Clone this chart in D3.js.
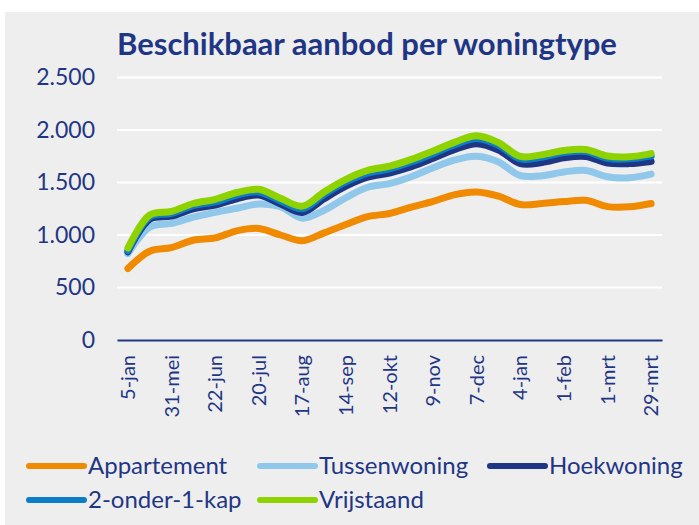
<!DOCTYPE html>
<html lang="nl">

<head>
    <meta charset="UTF-8">
    <title>Beschikbaar aanbod per woningtype</title>
    <script src="https://cdn.jsdelivr.net/npm/d3@7"></script>
    <style>
        html, body { margin: 0; padding: 0; background: #fff; }
        svg { display: block; }
    </style>
</head>

<body>
    <div id="container"></div>
</body>
<script>

    // data
    const weeks = ["5-jan", "17-mei", "31-mei", "8-jun", "22-jun", "6-jul", "20-jul", "3-aug", "17-aug",
        "31-aug", "14-sep", "28-sep", "12-okt", "26-okt", "9-nov", "23-nov", "7-dec", "21-dec",
        "4-jan", "18-jan", "1-feb", "15-feb", "1-mrt", "15-mrt", "29-mrt"];
    const appartement = [680, 845, 880, 950, 972, 1040, 1062, 1000, 945, 1020, 1100, 1175, 1205, 1265, 1320, 1385, 1410, 1370, 1290, 1300, 1318, 1330, 1270, 1268, 1300];
    const tussenwoning = [822, 1075, 1110, 1170, 1215, 1255, 1295, 1270, 1160, 1235, 1355, 1455, 1490, 1555, 1640, 1715, 1750, 1695, 1565, 1565, 1600, 1615, 1555, 1545, 1580];
    const hoekwoning = [840, 1150, 1180, 1250, 1285, 1345, 1380, 1295, 1215, 1345, 1465, 1550, 1590, 1650, 1730, 1815, 1870, 1810, 1680, 1690, 1735, 1748, 1685, 1680, 1700];
    const tweeOnder1Kap = [850, 1170, 1205, 1280, 1315, 1380, 1410, 1325, 1250, 1385, 1505, 1590, 1630, 1695, 1775, 1860, 1920, 1855, 1725, 1740, 1785, 1795, 1730, 1725, 1752];
    const vrijstaand = [875, 1190, 1225, 1300, 1340, 1405, 1435, 1350, 1275, 1410, 1530, 1615, 1655, 1720, 1800, 1885, 1945, 1880, 1748, 1765, 1805, 1815, 1752, 1745, 1775];
    const yTicks = [0, 500, 1000, 1500, 2000, 2500];

    const series = [
        { name: "Appartement", values: appartement, color: "#f08a00" },
        { name: "Tussenwoning", values: tussenwoning, color: "#8fc8ea" },
        { name: "Hoekwoning", values: hoekwoning, color: "#1f3685" },
        { name: "2-onder-1-kap", values: tweeOnder1Kap, color: "#0b7ec6" },
        { name: "Vrijstaand", values: vrijstaand, color: "#8ed300" }
    ];

    const W = 699, H = 525;
    const navy = "#1f3685";
    const font = "Lato, 'DejaVu Sans', sans-serif";

    const svg = d3.create("svg")
        .attr("width", W)
        .attr("height", H);

    // grey chart panel
    svg.append("rect")
        .attr("x", 5).attr("y", 12)
        .attr("width", W - 5).attr("height", H - 12)
        .attr("fill", "#eeeeee");

    const x = d3.scaleBand()
        .domain(weeks)
        .range([117, 662]);
    const xc = d => x(d) + x.bandwidth() / 2;

    const y = d3.scaleLinear()
        .domain([0, 2500])
        .range([340, 77.5]);

    const nl = d3.formatLocale({ decimal: ",", thousands: ".", grouping: [3], currency: ["€", ""] });
    const fmt = nl.format(",");

    // gridlines
    svg.append("g")
        .selectAll("line")
        .data(yTicks.filter(d => d > 0))
        .join("line")
        .attr("x1", 117).attr("x2", 662)
        .attr("y1", d => y(d)).attr("y2", d => y(d))
        .attr("stroke", "#ffffff")
        .attr("stroke-width", 2);

    // y axis labels
    const yAxis = svg.append("g")
        .attr("transform", "translate(117,0)")
        .call(d3.axisLeft(y).tickValues(yTicks).tickFormat(fmt).tickSize(0).tickPadding(22));
    yAxis.select(".domain").remove();
    yAxis.selectAll("text")
        .attr("fill", navy)
        .attr("font-family", font)
        .attr("font-size", 23);

    // x axis
    const xAxis = svg.append("g")
        .attr("transform", "translate(0,340)")
        .call(d3.axisBottom(x).tickValues(weeks.filter((d, i) => i % 2 === 0)).tickSize(0));
    xAxis.select(".domain")
        .attr("stroke", navy)
        .attr("stroke-width", 2);
    xAxis.selectAll("text")
        .attr("fill", navy)
        .attr("font-family", font)
        .attr("font-size", 20)
        .attr("text-anchor", "end")
        .attr("dy", "0.35em")
        .attr("transform", "rotate(-90)")
        .attr("x", -15)
        .attr("y", 0);

    // lines
    const line = d3.line()
        .x((d, i) => xc(weeks[i]))
        .y(d => y(d))
        .curve(d3.curveCatmullRom.alpha(0.5));

    svg.append("g")
        .selectAll("path")
        .data(series)
        .join("path")
        .attr("fill", "none")
        .attr("stroke", d => d.color)
        .attr("stroke-width", 7)
        .attr("stroke-linecap", "round")
        .attr("stroke-linejoin", "round")
        .attr("d", d => line(d.values));

    // title
    svg.append("text")
        .attr("x", 367).attr("y", 55)
        .attr("text-anchor", "middle")
        .attr("fill", navy)
        .attr("font-family", font)
        .attr("font-weight", "bold")
        .attr("font-size", 31)
        .text("Beschikbaar aanbod per woningtype");

    // legend
    const legendPos = [[29, 466], [260, 466], [490, 466], [29, 500], [260, 500]];
    const legend = svg.append("g")
        .selectAll("g")
        .data(series)
        .join("g")
        .attr("transform", (d, i) => `translate(${legendPos[i][0]},${legendPos[i][1]})`);
    legend.append("line")
        .attr("x1", 0).attr("x2", 55)
        .attr("stroke", d => d.color)
        .attr("stroke-width", 6)
        .attr("stroke-linecap", "round");
    legend.append("text")
        .attr("x", 59)
        .attr("dy", "0.35em")
        .attr("fill", navy)
        .attr("font-family", font)
        .attr("font-size", 24)
        .text(d => d.name);

    d3.select("#container").node().append(svg.node());

</script>

</html>
